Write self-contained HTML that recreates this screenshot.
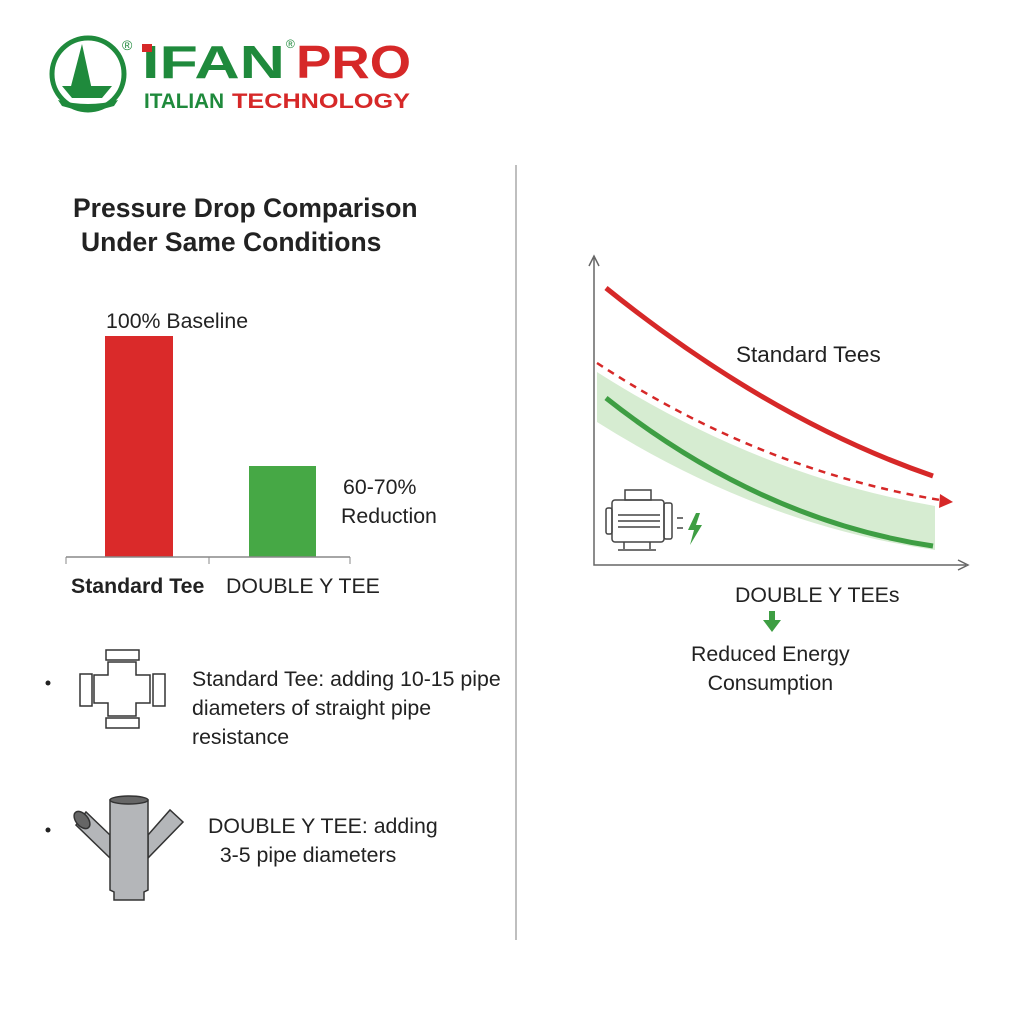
<!DOCTYPE html>
<html><head><meta charset="utf-8"><style>
body{margin:0;width:1024px;height:1024px;background:#fff;font-family:"Liberation Sans",sans-serif;position:relative;overflow:hidden;color:#222}
.t{position:absolute;white-space:nowrap;font-size:21.3px}
</style></head><body>
<svg width="1024" height="1024" style="position:absolute;left:0;top:0">
<circle cx="88" cy="74" r="36" fill="none" stroke="#1f8a3c" stroke-width="5"/>
<path d="M82 44 L92 90 L70 90 Z" fill="#1f8a3c"/>
<path d="M62 86 L112 86 L102 98 L72 98 Z" fill="#1f8a3c"/>
<path d="M58 100 Q88 108 118 100 L114 106 Q88 114 62 106Z" fill="#1f8a3c"/>
<text x="122" y="50" font-size="14" fill="#1f8a3c" font-family="Liberation Sans">®</text>
<text x="142" y="78" font-size="46" font-weight="bold" fill="#1f8a3c" font-family="Liberation Sans" textLength="143" lengthAdjust="spacingAndGlyphs">IFAN</text>
<rect x="142" y="44" width="10" height="8" fill="#d62828"/>
<text x="286" y="48" font-size="12" fill="#1f8a3c">®</text>
<text x="296" y="78" font-size="46" font-weight="bold" fill="#d62828" textLength="115" lengthAdjust="spacingAndGlyphs">PRO</text>
<text x="144" y="108" font-size="21" font-weight="bold" fill="#1f8a3c" textLength="80" lengthAdjust="spacingAndGlyphs">ITALIAN</text>
<text x="232" y="108" font-size="21" font-weight="bold" fill="#d62828" textLength="178" lengthAdjust="spacingAndGlyphs">TECHNOLOGY</text>
<line x1="516" y1="165" x2="516" y2="940" stroke="#aaa" stroke-width="1.5"/>
<rect x="105" y="336" width="68" height="221" fill="#da2a2a"/>
<rect x="249" y="466" width="67" height="91" fill="#46a845"/>
<line x1="66" y1="557" x2="350" y2="557" stroke="#888" stroke-width="1.5"/>
<line x1="66" y1="557" x2="66" y2="564" stroke="#888"/><line x1="209" y1="557" x2="209" y2="564" stroke="#888"/><line x1="350" y1="557" x2="350" y2="564" stroke="#888"/>
<g fill="#fff" stroke="#333" stroke-width="1.5">
<path d="M108 662 L136 662 L136 675 L150 675 L150 703 L136 703 L136 716 L108 716 L108 703 L94 703 L94 675 L108 675 Z"/>
<rect x="106" y="650" width="33" height="10"/><rect x="106" y="718" width="33" height="10"/>
<rect x="80" y="674" width="12" height="32"/><rect x="153" y="674" width="12" height="32"/>
</g>
<circle cx="48" cy="683" r="2.5" fill="#222"/>
<circle cx="48" cy="830" r="2.5" fill="#222"/>
<g stroke="#333" stroke-width="1.5" fill="#b4b6b9">
<path d="M110 835 L86 812 L76 825 L110 858 Z"/>
<path d="M148 835 L170 810 L183 822 L148 858 Z"/>
<path d="M110 800 L110 890 L114 892 L114 900 L144 900 L144 892 L148 890 L148 800 Z"/>
<ellipse cx="129" cy="800" rx="19" ry="4" fill="#666"/>
<ellipse cx="82" cy="820" rx="6" ry="10" transform="rotate(-40 82 820)" fill="#666"/>
</g>
<g stroke="#666" stroke-width="1.5" fill="none">
<path d="M594 258 L594 565 L966 565"/>
<path d="M589 266 L594 256 L599 266"/><path d="M958 560 L968 565 L958 570"/>
</g>
<path d="M597 372 Q760 476 935 506 L935 550 Q760 525 597 422 Z" fill="#d6ecd1"/>
<path d="M606 288 Q770 420 933 476" fill="none" stroke="#d62828" stroke-width="5"/>
<path d="M597 363 Q760 470 940 500" fill="none" stroke="#d62828" stroke-width="2.5" stroke-dasharray="7,6"/>
<path d="M940 494 L953 502 L939 508 Z" fill="#d62828"/>
<path d="M606 398 Q760 520 933 546" fill="none" stroke="#3e9e43" stroke-width="5"/>
<g stroke="#444" stroke-width="1.5" fill="none">
<rect x="612" y="500" width="52" height="42" rx="3"/>
<rect x="606" y="508" width="6" height="26" rx="2"/>
<rect x="664" y="503" width="8" height="36" rx="2"/>
<rect x="625" y="490" width="26" height="10"/>
<line x1="618" y1="515" x2="660" y2="515"/><line x1="618" y1="521" x2="660" y2="521"/><line x1="618" y1="527" x2="660" y2="527"/>
<path d="M624 542 L624 549 M650 542 L650 549 M618 550 L656 550"/>
<path d="M677 518 L683 518 M677 528 L683 528"/>
</g>
<path d="M696 513 L688 530 L694 530 L690 545 L702 525 L696 525 L700 513Z" fill="#3e9e43"/>
<path d="M769 611 L775 611 L775 620 L781 620 L772 632 L763 620 L769 620Z" fill="#3e9e43"/>
</svg>
<div class="t" style="left:73px;top:193px;font-size:26.5px;font-weight:bold">Pressure Drop Comparison</div>
<div class="t" style="left:81px;top:227px;font-size:26.5px;font-weight:bold">Under Same Conditions</div>
<div class="t" style="left:106px;top:309px">100% Baseline</div>
<div class="t" style="left:343px;top:475px">60-70%</div>
<div class="t" style="left:341px;top:504px">Reduction</div>
<div class="t" style="left:71px;top:574px;font-weight:bold">Standard Tee</div>
<div class="t" style="left:226px;top:574px">DOUBLE Y TEE</div>
<div class="t" style="left:192px;top:665px;line-height:29px">Standard Tee: adding 10-15 pipe<br>diameters of straight pipe<br>resistance</div>
<div class="t" style="left:208px;top:812px;line-height:29px">DOUBLE Y TEE: adding<br>&nbsp;&nbsp;3-5 pipe diameters</div>
<div class="t" style="left:736px;top:342px;font-size:22.5px">Standard Tees</div>
<div class="t" style="left:735px;top:583px">DOUBLE Y TEEs</div>
<div class="t" style="left:691px;top:640px;line-height:29px;text-align:center">Reduced Energy<br>Consumption</div>
</body></html>
